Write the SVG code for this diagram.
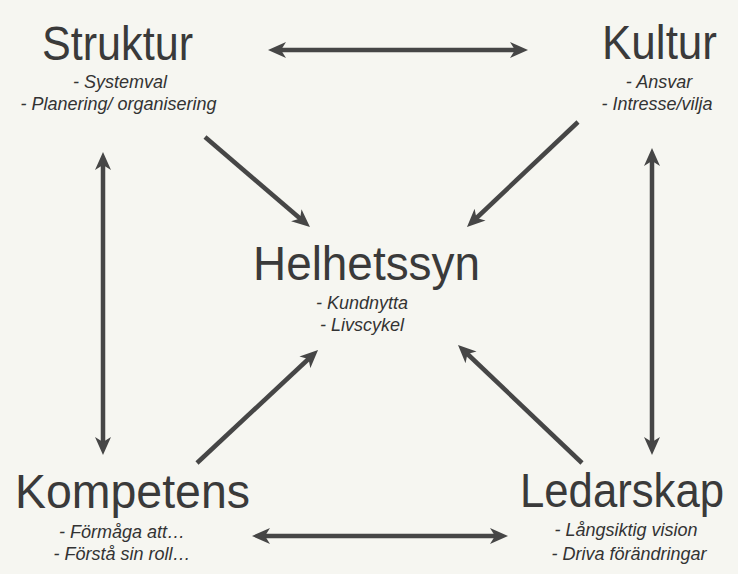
<svg xmlns="http://www.w3.org/2000/svg" width="738" height="574" viewBox="0 0 738 574">
  <defs>
    <marker id="head" viewBox="0 0 18 18" markerUnits="userSpaceOnUse" markerWidth="18" markerHeight="18" refX="10" refY="9" orient="auto-start-reverse">
      <path d="M0,1 L18,9 L0,17 L5,9 z" fill="#464646"/>
    </marker>
    <style>
      .title { font-family: "Liberation Sans", Arial, sans-serif; font-size: 48px; fill: #3a3a3a; text-anchor: middle; }
      .sub { font-family: "Liberation Sans", Arial, sans-serif; font-size: 18px; font-style: italic; fill: #333333; text-anchor: middle; }
      .link { stroke: #464646; stroke-width: 4.5; fill: none; }
      .one { marker-end: url(#head); }
      .two { marker-start: url(#head); marker-end: url(#head); }
    </style>
  </defs>

  <rect width="738" height="574" fill="#f6f6f1"/>

  <g id="connectors">
    <line class="link two" x1="276" y1="50" x2="520" y2="50"/>
    <line class="link two" x1="260" y1="536" x2="500" y2="536"/>
    <line class="link two" x1="103" y1="160" x2="103" y2="447"/>
    <line class="link two" x1="652" y1="156" x2="652" y2="447"/>
    <line class="link one" x1="205" y1="137" x2="303.9" y2="221.8"/>
    <line class="link one" x1="578" y1="122" x2="472.8" y2="221.5"/>
    <line class="link one" x1="197" y1="463" x2="312.2" y2="355.5"/>
    <line class="link one" x1="582" y1="463" x2="463.8" y2="350.5"/>
  </g>

  <g id="struktur">
    <text class="title" x="117.5" y="60" textLength="151" lengthAdjust="spacingAndGlyphs">Struktur</text>
    <text class="sub" x="120" y="88">- Systemval</text>
    <text class="sub" x="118.5" y="110">- Planering/ organisering</text>
  </g>

  <g id="kultur">
    <text class="title" x="659.5" y="59" textLength="115" lengthAdjust="spacingAndGlyphs">Kultur</text>
    <text class="sub" x="659" y="88">- Ansvar</text>
    <text class="sub" x="657" y="110">- Intresse/vilja</text>
  </g>

  <g id="helhetssyn">
    <text class="title" x="366.5" y="280" textLength="227" lengthAdjust="spacingAndGlyphs">Helhetssyn</text>
    <text class="sub" x="362" y="309">- Kundnytta</text>
    <text class="sub" x="362" y="331">- Livscykel</text>
  </g>

  <g id="kompetens">
    <text class="title" x="132.5" y="508" textLength="235" lengthAdjust="spacingAndGlyphs">Kompetens</text>
    <text class="sub" x="122" y="538">- Förmåga att…</text>
    <text class="sub" x="122" y="560">- Förstå sin roll…</text>
  </g>

  <g id="ledarskap">
    <text class="title" x="622" y="507" textLength="204" lengthAdjust="spacingAndGlyphs">Ledarskap</text>
    <text class="sub" x="626" y="536">- Långsiktig vision</text>
    <text class="sub" x="629" y="560">- Driva förändringar</text>
  </g>
</svg>
